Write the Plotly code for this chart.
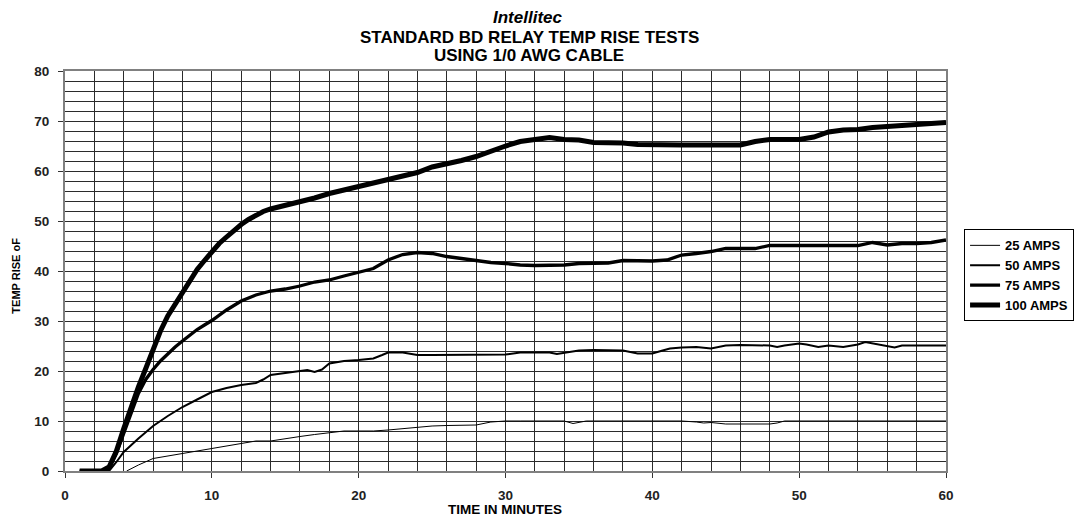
import plotly.graph_objects as go

# ---- data ----
series_names = ["25 AMPS", "50 AMPS", "75 AMPS", "100 AMPS"]

t25 = [4.2, 5, 6, 7, 8, 9, 10, 11, 12, 13,
       14, 15, 16, 17, 18, 19, 20, 21, 22, 23,
       24, 25, 26, 27, 28, 29, 30, 31, 32, 33,
       34, 34.6, 35.5, 36, 38, 40, 42, 43, 43.5, 44,
       45, 46, 47, 48, 48.5, 49, 50, 52, 54, 56,
       58, 60]
v25 = [0, 1.2, 2.5, 3.0, 3.6, 4.1, 4.6, 5.1, 5.6, 6.0,
       6.0, 6.5, 6.9, 7.3, 7.7, 8.0, 8.0, 8.0, 8.2, 8.5,
       8.7, 9.0, 9.1, 9.1, 9.2, 9.8, 10, 10, 10, 10,
       10, 9.5, 10, 10, 10, 10, 10, 9.8, 9.6, 9.7,
       9.4, 9.4, 9.4, 9.4, 9.6, 10, 10, 10, 10, 10,
       10, 10]

t50 = [1.0, 3.0, 3.5, 4, 5, 6, 7, 8, 9, 10,
       11, 12, 13, 13.5, 14, 15, 16, 16.5, 17, 17.5,
       18, 19, 20, 21, 21.6, 22, 23, 24, 25, 26,
       27, 28, 29, 30, 31, 32, 33, 33.5, 34, 35,
       36, 37, 38, 39, 40, 40.7, 41.2, 42, 43, 44,
       45, 46, 47, 48, 48.5, 49, 50, 50.5, 51.3, 52,
       53, 54, 54.5, 55.5, 56.5, 57, 58, 59, 60]
v50 = [0, 0, 1.8, 3.8, 6.5, 9.0, 11.0, 12.8, 14.3, 15.8,
       16.6, 17.2, 17.6, 18.3, 19.2, 19.6, 20.0, 20.2, 19.8, 20.3,
       21.5, 22.0, 22.2, 22.5, 23.2, 23.7, 23.7, 23.2, 23.2, 23.2,
       23.2, 23.2, 23.2, 23.3, 23.7, 23.7, 23.7, 23.4, 23.6, 24.1,
       24.2, 24.2, 24.1, 23.5, 23.5, 24.1, 24.5, 24.7, 24.8, 24.5,
       25.1, 25.2, 25.2, 25.1, 24.8, 25.1, 25.5, 25.3, 24.8, 25.1,
       24.8, 25.3, 25.8, 25.3, 24.7, 25.1, 25.1, 25.1, 25.1]

t75 = [1.0, 2.6, 3, 3.5, 4, 4.5, 5, 5.5, 6, 6.5,
       7, 7.5, 8, 8.5, 9, 9.5, 10, 11, 12, 13,
       14, 15, 16, 17, 18, 19, 20, 21, 22, 23,
       24, 25, 26, 27, 28, 29, 30, 31, 32, 33,
       34, 35, 36, 37, 38, 39, 40, 41, 42, 43,
       44, 45, 46, 47, 48, 49, 50, 51, 52, 53,
       54, 55, 56, 57, 58, 59, 60]
v75 = [0, 0, 0.5, 3.5, 7.5, 11.5, 15.5, 18.3, 20.3, 22.0,
       23.5, 24.8, 26.0, 27.2, 28.3, 29.2, 30.1, 32.2, 34.0, 35.2,
       36.0, 36.4, 37.0, 37.8, 38.2, 39.0, 39.7, 40.5, 42.2, 43.3,
       43.7, 43.5, 42.9, 42.5, 42.2, 41.7, 41.5, 41.2, 41.1, 41.1,
       41.2, 41.5, 41.5, 41.6, 42.1, 42.1, 42.0, 42.2, 43.2, 43.5,
       43.9, 44.5, 44.5, 44.5, 45.1, 45.1, 45.1, 45.1, 45.1, 45.1,
       45.1, 45.7, 45.2, 45.5, 45.5, 45.7, 46.2]

t100 = [1.0, 2.5, 3, 3.5, 4, 4.5, 5, 5.5, 6, 6.5,
        7, 7.5, 8, 8.5, 9, 9.5, 10, 10.5, 11, 11.5,
        12, 12.5, 13, 13.5, 14, 15, 16, 17, 18, 19,
        20, 21, 22, 23, 24, 25, 26, 27, 28, 29,
        30, 31, 32, 33, 34, 35, 36, 37, 38, 39,
        40, 41, 42, 43, 44, 45, 46, 47, 48, 49,
        50, 51, 52, 53, 54, 55, 56, 57, 58, 59,
        60]
v100 = [0, 0, 0.8, 4.0, 8.5, 13.0, 16.8, 20.5, 24.5, 28.0,
        31.0, 33.3, 35.5, 38.0, 40.3, 42.1, 43.8, 45.5, 46.8, 48.1,
        49.3, 50.3, 51.2, 51.9, 52.4, 53.1, 53.7, 54.6, 55.5, 56.2,
        56.7, 57.4, 58.2, 58.9, 59.7, 60.8, 61.4, 62.1, 62.9, 64.0,
        65.0, 65.9, 66.4, 66.7, 66.3, 66.2, 65.7, 65.7, 65.6, 65.3,
        65.2, 65.2, 65.2, 65.2, 65.2, 65.2, 65.2, 65.9, 66.3, 66.3,
        66.3, 66.8, 67.8, 68.2, 68.3, 68.7, 68.9, 69.1, 69.4, 69.7,
        69.7]

x_ticks = [0, 10, 20, 30, 40, 50, 60]
y_ticks = [0, 10, 20, 30, 40, 50, 60, 70, 80]

FONT = "Liberation Sans, Arial, Helvetica, sans-serif"

fig = go.Figure()
for name, tx, vy, w in [
    (series_names[0], t25, v25, 1),
    (series_names[1], t50, v50, 2),
    (series_names[2], t75, v75, 3.3),
    (series_names[3], t100, v100, 5),
]:
    fig.add_trace(go.Scatter(x=tx, y=vy, mode="lines", name=name,
                             line=dict(color="black", width=w)))

grid_col = "#2b2b2b"
axis_common = dict(
    ticks="outside", ticklen=5, tickwidth=1, tickcolor="#333333",
    showgrid=True, gridcolor=grid_col, gridwidth=1.2,
    showline=True, linecolor="#808080", linewidth=2, mirror=True,
    zeroline=False,
    tickfont=dict(family=FONT, size=13.5, color="#222222", weight="bold"),
    ticklabelstandoff=6,
)

fig.update_xaxes(range=[0, 60], tickmode="array", tickvals=x_ticks,
                 minor=dict(dtick=2, tick0=0, showgrid=True, gridcolor=grid_col,
                            gridwidth=1.2, ticks=""),
                 **axis_common)
fig.update_yaxes(range=[0, 80], tickmode="array", tickvals=y_ticks,
                 minor=dict(dtick=2, tick0=0, showgrid=True, gridcolor=grid_col,
                            gridwidth=1.2, ticks=""),
                 **axis_common)

annotations = [
    dict(text="<b><i>Intellitec</i></b>", x=0.526, y=1.134),
    dict(text="<b>STANDARD BD RELAY TEMP RISE TESTS</b>", x=0.527, y=1.084),
    dict(text="<b>USING 1/0 AWG CABLE</b>", x=0.527, y=1.0375),
]
for a in annotations:
    a.update(xref="paper", yref="paper", xanchor="center", yanchor="middle",
             showarrow=False, font=dict(family=FONT, size=17, color="black"))

annotations.append(dict(text="<b>TIME IN MINUTES</b>", x=0.4994, y=-0.0975,
                        xref="paper", yref="paper", xanchor="center", yanchor="middle",
                        showarrow=False, font=dict(family=FONT, size=13.5, color="black")))
annotations.append(dict(text="<b>TEMP RISE oF</b>", x=-0.056, y=0.4875, textangle=-90,
                        xref="paper", yref="paper", xanchor="center", yanchor="middle",
                        showarrow=False, font=dict(family=FONT, size=11, color="black")))

fig.update_layout(
    width=1076, height=518,
    margin=dict(l=65, r=130, t=71, b=47, autoexpand=False),
    paper_bgcolor="white", plot_bgcolor="white",
    showlegend=True,
    legend=dict(x=1.0205, y=0.604, xanchor="left", yanchor="top",
                bordercolor="black", borderwidth=1, bgcolor="white",
                font=dict(family=FONT, size=13, color="black", weight="bold"),
                itemwidth=30, tracegroupgap=0),
    annotations=annotations,
)

fig.write_html("out.html", config={"displayModeBar": False},
               post_script="document.body.style.margin='0px';")
